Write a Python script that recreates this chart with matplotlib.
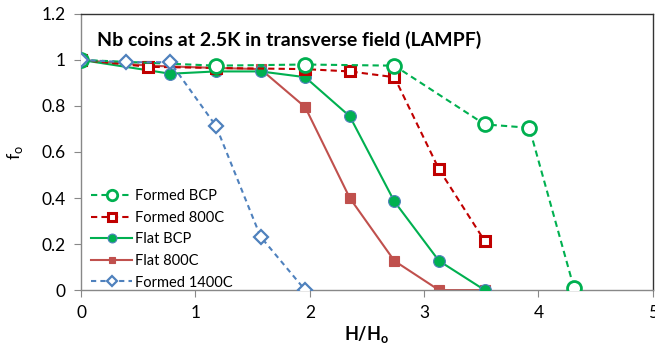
import matplotlib
matplotlib.use("Agg")
import matplotlib.pyplot as plt

plt.rcParams['font.family'] = ['Lato', 'DejaVu Sans']

formed_bcp_x = [0, 1.18, 1.96, 2.74, 3.53, 3.92, 4.31]
formed_bcp_y = [1.0, 0.975, 0.98, 0.975, 0.72, 0.705, 0.01]

formed_800_x = [0, 0.59, 1.18, 1.96, 2.35, 2.74, 3.13, 3.53]
formed_800_y = [1.0, 0.97, 0.965, 0.96, 0.95, 0.925, 0.525, 0.213]

flat_bcp_x = [0, 0.78, 1.18, 1.57, 1.96, 2.35, 2.74, 3.13, 3.53]
flat_bcp_y = [1.0, 0.94, 0.95, 0.95, 0.925, 0.755, 0.385, 0.127, 0.0]

flat_800_x = [0, 0.59, 1.18, 1.57, 1.96, 2.35, 2.74, 3.13, 3.53]
flat_800_y = [1.0, 0.975, 0.965, 0.96, 0.795, 0.40, 0.127, 0.0, 0.0]

formed_1400_x = [0, 0.39, 0.78, 1.18, 1.57, 1.96]
formed_1400_y = [1.0, 0.99, 0.99, 0.713, 0.232, 0.0]

xticks = [0, 1, 2, 3, 4, 5]
yticks = [0, 0.2, 0.4, 0.6, 0.8, 1.0, 1.2]
ytick_labels = ['0', '0.2', '0.4', '0.6', '0.8', '1', '1.2']

fig = plt.figure(figsize=(6.55, 3.47), dpi=100)
ax = fig.add_axes([0.1237, 0.164, 0.873, 0.796])

green = '#00B050'
dred = '#C00000'
lred = '#C0504D'
blue = '#4F81BD'

ax.plot(formed_bcp_x, formed_bcp_y, linestyle=(0, (3, 2)), color=green, lw=1.5,
        marker='o', ms=10, mfc='white', mec=green, mew=2, label='Formed BCP', zorder=5)
ax.plot(formed_800_x, formed_800_y, linestyle=(0, (3, 2)), color=dred, lw=1.5,
        marker='s', ms=7.5, mfc='white', mec=dred, mew=2.2, label='Formed 800C', zorder=4)
ax.plot(flat_bcp_x, flat_bcp_y, linestyle='-', color=green, lw=1.5,
        marker='o', ms=8.5, mfc=green, mec=blue, mew=0.8, label='Flat BCP', zorder=3)
ax.plot(flat_800_x, flat_800_y, linestyle='-', color=lred, lw=1.5,
        marker='s', ms=6.5, mfc=lred, mec=lred, mew=0.8, label='Flat 800C', zorder=2)
ax.plot(formed_1400_x, formed_1400_y, linestyle=(0, (2.5, 2)), color=blue, lw=1.5,
        marker='D', ms=7, mfc='white', mec=blue, mew=1.6, label='Formed 1400C', zorder=6)

ax.set_xlim(0, 5)
ax.set_ylim(0, 1.2)
ax.set_xticks(xticks)
ax.set_xticklabels([str(t) for t in xticks])
ax.set_yticks(yticks)
ax.set_yticklabels(ytick_labels)
ax.tick_params(axis='both', labelsize=12.5, color='#888888', length=5, direction='out')
ax.tick_params(axis='y', pad=6)
ax.tick_params(axis='x', pad=6)

for side in ['left', 'bottom']:
    ax.spines[side].set_color('#888888')
    ax.spines[side].set_linewidth(1)
for side in ['top', 'right']:
    ax.spines[side].set_color('#333333')
    ax.spines[side].set_linewidth(1)

for lab in ax.get_xticklabels() + ax.get_yticklabels():
    lab.set_clip_on(False)

ax.set_xlabel('H/H$_\\mathregular{o}$', fontsize=13, fontweight='bold', labelpad=2)
ax.set_ylabel('f$_\\mathregular{o}$', fontsize=13, labelpad=12)

ax.text(0.028, 0.905, 'Nb coins at 2.5K in transverse field (LAMPF)', transform=ax.transAxes,
        fontsize=14, fontweight='bold', ha='left', va='center')

leg = ax.legend(loc='lower left', bbox_to_anchor=(0.0, -0.035), frameon=False,
                fontsize=10.5, handlelength=2.8, labelspacing=0.52, handletextpad=0.2,
                borderaxespad=0.3, markerscale=0.75)

fig.savefig('out.png', dpi=100)
